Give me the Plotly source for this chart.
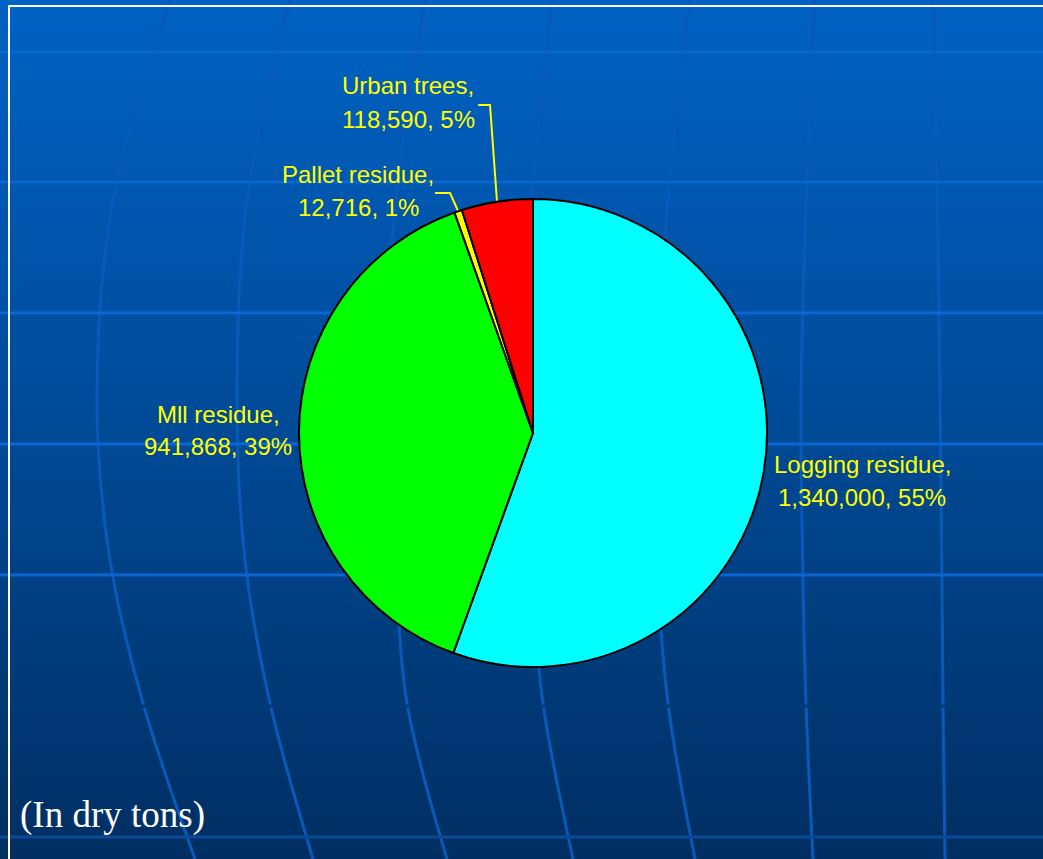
import math
import plotly.graph_objects as go

# ---- data -------------------------------------------------------------
categories = ["Logging residue", "Mll residue", "Pallet residue", "Urban trees"]
dry_tons = [1340000, 941868, 12716, 118590]
share_labels = ["55%", "39%", "1%", "5%"]
slice_colors = ["#00ffff", "#00ff00", "#ffff00", "#ff0000"]

# ---- canvas / layout constants (pixel space) ---------------------------
W, H = 1043, 859
CX, CY, R = 533, 433, 234          # pie centre and radius

# label line centres: (x, y first line, y second line)
label_pos = {
    "Logging residue": (862, 464, 497),
    "Mll residue": (218, 414, 446),
    "Pallet residue": (358, 174, 207),
    "Urban trees": (408, 85, 119),
}
# elbow of the leader lines for the small slices
leader_elbow = {
    "Pallet residue": [(435, 193), (450, 193)],
    "Urban trees": [(478, 105), (490, 105)],
}

fig = go.Figure()

# background gradient
fig.add_trace(go.Heatmap(
    x=[0, W], y=[0, H], z=[[1, 1], [0, 0]],
    zmin=0, zmax=1, zsmooth="best", showscale=False, hoverinfo="skip",
    colorscale=[[0, "rgb(0,46,98)"], [0.5, "rgb(0,74,150)"], [1, "rgb(0,98,196)"]],
))

# globe meridians
meridians = [
    [(170, 0), (113, 200), (97, 400), (110, 560), (143, 703), (195, 859)],
    [(290, 0), (247, 200), (237, 400), (245, 560), (270, 703), (313, 859)],
    [(425, 0), (396, 200), (385, 400), (395, 560), (407, 703), (447, 859)],
    [(552, 0), (532, 200), (522, 400), (530, 560), (543, 703), (573, 859)],
    [(690, 0), (668, 200), (655, 400), (657, 560), (668, 703), (695, 859)],
    [(815, 0), (807, 180), (801, 400), (803, 580), (806, 703), (813, 859)],
    [(933, 0), (937, 180), (940, 400), (942, 580), (943, 703), (945, 859)],
]
for pts in meridians:
    fig.add_trace(go.Scatter(
        x=[p[0] for p in pts], y=[p[1] for p in pts], mode="lines",
        line=dict(color="rgb(8,90,186)", width=3, shape="spline"),
        hoverinfo="skip", showlegend=False,
    ))

# parallels
for yy, col in [(52, "#0a66cc"), (182, "#0a66d0"), (313, "#0a66d2"), (444, "#0a66d4"),
                (575, "#0a64d2"), (706, "rgb(0,58,120)"), (837, "#0b4a96")]:
    fig.add_trace(go.Scatter(
        x=[0, W], y=[yy, yy], mode="lines",
        line=dict(color=col, width=3), hoverinfo="skip", showlegend=False,
    ))

# pie
fig.add_trace(go.Pie(
    labels=categories, values=dry_tons, sort=False, direction="clockwise",
    rotation=0, textinfo="none", hoverinfo="label+value+percent",
    marker=dict(colors=slice_colors, line=dict(color="black", width=2)),
    domain=dict(x=[(CX - R) / W, (CX + R) / W],
                y=[(H - CY - R) / H, (H - CY + R) / H]),
    showlegend=False,
))

# leader lines from the mid-angle of each small slice
total = sum(dry_tons)
cum = 0.0
for name, v in zip(categories, dry_tons):
    mid = (cum + v / 2) / total * 2 * math.pi
    cum += v
    if name in leader_elbow:
        ex = CX + R * math.sin(mid)
        ey = CY - R * math.cos(mid)
        pts = leader_elbow[name] + [(ex, ey)]
        fig.add_trace(go.Scatter(
            x=[p[0] for p in pts], y=[p[1] for p in pts], mode="lines",
            line=dict(color="#ffff00", width=2), hoverinfo="skip", showlegend=False,
        ))

# data labels
label_font = dict(family="Liberation Sans, Arial, sans-serif", size=24, color="#ffff00")
for name, v, pct in zip(categories, dry_tons, share_labels):
    x, y1, y2 = label_pos[name]
    fig.add_annotation(x=x, y=y1, text=f"{name},", showarrow=False,
                       xref="x", yref="y", xanchor="center", yanchor="middle", font=label_font)
    fig.add_annotation(x=x, y=y2, text=f"{v:,}, {pct}", showarrow=False,
                       xref="x", yref="y", xanchor="center", yanchor="middle", font=label_font)

fig.add_annotation(x=18, y=815, text="(In dry tons)", showarrow=False,
                   xref="x", yref="y", xanchor="left", yanchor="middle",
                   font=dict(family="Liberation Serif, Times New Roman, serif", size=37, color="white"))

# white frame
fig.add_shape(type="rect", xref="x", yref="y", x0=9, y0=6, x1=W + 40, y1=H + 40,
              line=dict(color="white", width=2), fillcolor="rgba(0,0,0,0)")

fig.update_layout(
    width=W, height=H, margin=dict(l=0, r=0, t=0, b=0),
    paper_bgcolor="rgb(0,70,140)", plot_bgcolor="rgba(0,0,0,0)",
    xaxis=dict(range=[0, W], visible=False, domain=[0, 1], fixedrange=True),
    yaxis=dict(range=[H, 0], visible=False, domain=[0, 1], fixedrange=True),
    showlegend=False,
)

fig.write_html("out.html")
